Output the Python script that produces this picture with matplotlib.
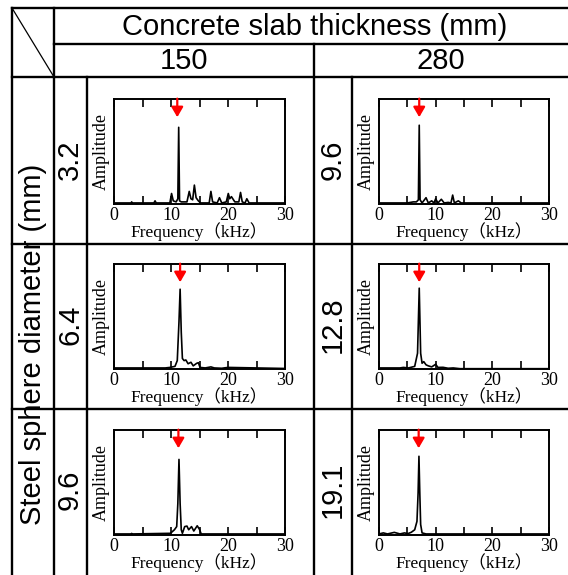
import matplotlib
matplotlib.use("Agg")
import matplotlib.pyplot as plt
from matplotlib.lines import Line2D

W, H = 568, 575

# header / label text
col_title = "Concrete slab thickness (mm)"
col_values = ["150", "280"]
row_title = "Steel sphere diameter (mm)"
row_labels = [["3.2", "9.6"], ["6.4", "12.8"], ["9.6", "19.1"]]

# spectra: frequency (kHz), relative amplitude
f_150_32 = [0, 3.0, 3.1, 3.2, 7.0, 7.2, 7.4, 9.8, 10.1, 10.4, 10.9, 11.2, 11.35, 11.5, 11.8,
            12.8, 13.2, 13.5, 13.8, 14.1, 14.4, 14.8, 15.2, 16.7, 17.0, 17.3, 18.1, 18.5, 18.9,
            19.7, 20.05, 20.3, 20.6, 21.2, 21.9, 22.2, 22.5, 23.0, 23.3, 23.7, 24.2, 30]
a_150_32 = [0.01, 0.01, 0.02, 0.01, 0.01, 0.03, 0.01, 0.01, 0.10, 0.03, 0.02, 0.05, 0.73, 0.03, 0.02,
            0.02, 0.12, 0.05, 0.04, 0.18, 0.06, 0.03, 0.01, 0.01, 0.12, 0.02, 0.01, 0.06, 0.01,
            0.02, 0.10, 0.05, 0.07, 0.02, 0.02, 0.11, 0.02, 0.01, 0.05, 0.01, 0.01, 0.01]

f_280_96 = [0, 5.0, 6.05, 6.6, 6.95, 7.1, 7.25, 7.6, 8.3, 8.7, 9.3, 9.7, 10.0, 10.4, 11.0,
            11.5, 12.2, 12.7, 13.0, 13.3, 14.0, 14.5, 30]
a_280_96 = [0.01, 0.01, 0.02, 0.02, 0.04, 0.75, 0.04, 0.01, 0.06, 0.01, 0.03, 0.01, 0.05, 0.01, 0.045,
            0.01, 0.015, 0.01, 0.085, 0.01, 0.03, 0.01, 0.01]

f_150_64 = [0, 9.0, 9.8, 10.7, 11.1, 11.4, 11.6, 11.8, 12.0, 12.3, 12.6, 13.0, 13.5, 13.9, 14.5,
            14.8, 15.1, 16.0, 17.0, 17.6, 18.9, 20.0, 30]
a_150_64 = [0.01, 0.01, 0.015, 0.025, 0.08, 0.45, 0.76, 0.35, 0.10, 0.08, 0.086, 0.05, 0.064, 0.03, 0.054,
            0.06, 0.015, 0.01, 0.02, 0.01, 0.007, 0.015, 0.005]

f_280_128 = [0, 3.7, 4.3, 5.2, 6.3, 6.8, 7.1, 7.35, 7.6, 7.9, 8.3, 8.7, 9.3, 10.0, 10.4, 11.3,
             12.2, 13.1, 14.3, 30]
a_280_128 = [0.01, 0.01, 0.015, 0.01, 0.025, 0.15, 0.77, 0.15, 0.055, 0.07, 0.04, 0.03, 0.02, 0.045, 0.015, 0.016,
             0.007, 0.01, 0.003, 0.003]

f_150_96 = [0, 3.0, 3.1, 3.2, 9.9, 10.6, 11.0, 11.2, 11.4, 11.6, 11.8, 12.0, 12.4, 12.8, 13.1,
            13.6, 14.0, 14.6, 15.0, 15.3, 30]
a_150_96 = [0.01, 0.01, 0.015, 0.01, 0.016, 0.05, 0.08, 0.3, 0.72, 0.3, 0.05, 0.016, 0.08, 0.085, 0.05,
            0.08, 0.038, 0.088, 0.053, 0.01, 0.01]

f_280_191 = [0, 0.76, 1.5, 2.7, 3.7, 4.5, 5.1, 5.7, 6.3, 6.7, 6.9, 7.05, 7.2, 7.35, 7.6, 8.3, 30]
a_280_191 = [0.01, 0.02, 0.01, 0.025, 0.01, 0.02, 0.013, 0.026, 0.05, 0.13, 0.4, 0.75, 0.4, 0.1, 0.02, 0.01, 0.01]

spectra = [[(f_150_32, a_150_32), (f_280_96, a_280_96)],
           [(f_150_64, a_150_64), (f_280_128, a_280_128)],
           [(f_150_96, a_150_96), (f_280_191, a_280_191)]]

# red arrow position (kHz) above each peak
arrow_f = [[11.1, 7.1], [11.6, 7.1], [11.3, 7.0]]


def px(x, y):
    return x / W, 1 - y / H


fig = plt.figure(figsize=(W / 100, H / 100), dpi=100)
sans = ["Liberation Sans", "DejaVu Sans"]
serif = ["Liberation Serif", "Noto Sans CJK JP", "DejaVu Serif"]


def line(x0, y0, x1, y1, lw=1.7):
    (a, b), (c, d) = px(x0, y0), px(x1, y1)
    fig.add_artist(Line2D([a, c], [b, d], color="black", lw=lw, transform=fig.transFigure))


# table grid
for y in [8, 77, 244, 409]:
    line(12, y, W, y)
line(54, 44, W, 44)
line(12, 8, 12, H)
line(54, 8, 54, H)
line(87, 77, 87, H)
line(314, 44, 314, H)
line(352, 77, 352, H)
line(12, 8, 54, 77, lw=0.9)

fig.text(*px(315, 27), col_title, ha="center", va="center", fontsize=21, family=sans)
fig.text(*px(184, 61), col_values[0], ha="center", va="center", fontsize=21, family=sans)
fig.text(*px(441, 61), col_values[1], ha="center", va="center", fontsize=21, family=sans)
fig.text(*px(33, 344), row_title, ha="center", va="center", rotation=90, fontsize=21, family=sans)

row_mid = [160, 325, 490]
col_label_x = [70, 333]
ax_left = [114, 379]
ax_right = [285, 549]
ax_top = [99, 264, 430]
ax_h = 105

for r in range(3):
    for c in range(2):
        fig.text(*px(col_label_x[c], row_mid[r]), row_labels[r][c], ha="center", va="center",
                 rotation=90, fontsize=21, family=sans)
        l, b = px(ax_left[c], ax_top[r] + ax_h)
        ax = fig.add_axes([l, b, (ax_right[c] - ax_left[c]) / W, ax_h / H])
        f, a = spectra[r][c]
        ax.plot(f, a, color="black", lw=1.2)
        ax.set_xlim(0, 30)
        ax.set_ylim(0, 1)
        ax.set_xticks([0, 10, 20, 30])
        ax.set_xticks([5, 15, 25], minor=True)
        ax.set_yticks([])
        ax.tick_params(axis="x", which="both", direction="in", top=True, length=6, width=1.2,
                       labelsize=13, pad=2)
        for lab in ax.get_xticklabels():
            lab.set_family(serif)
        for s in ax.spines.values():
            s.set_linewidth(1.4)
        ax.set_xlabel("Frequency（kHz）", fontsize=12.5, family=serif, labelpad=-1)
        ax.set_ylabel("Amplitude", fontsize=13, family=serif, labelpad=3)
        ax.annotate("", xy=(arrow_f[r][c], 0.8), xytext=(arrow_f[r][c], 1.03),
                    arrowprops=dict(arrowstyle="-|>,head_width=0.35,head_length=0.6",
                                    color="red", lw=1.6),
                    annotation_clip=False)

fig.savefig("out.png", dpi=100)
